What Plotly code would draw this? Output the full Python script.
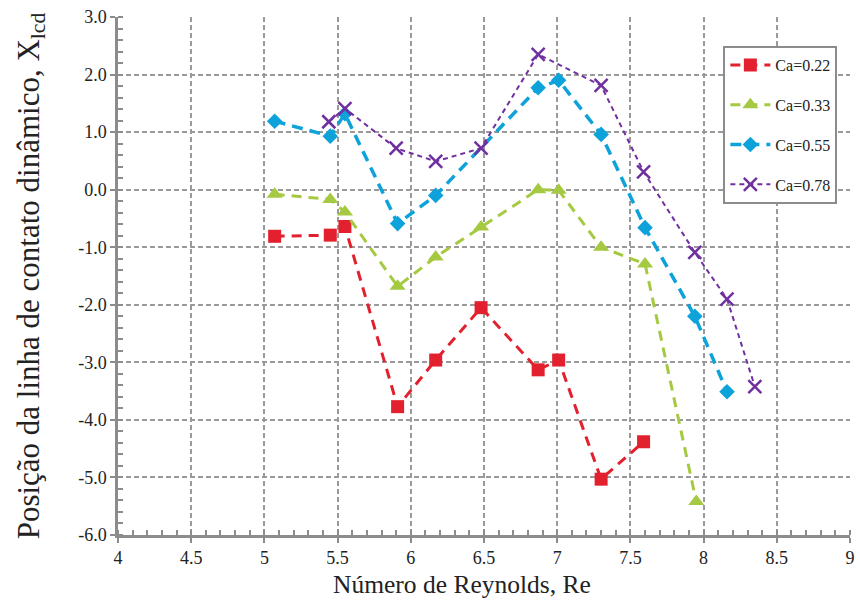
import plotly.graph_objects as go

# Data
re_022 = [5.07, 5.45, 5.55, 5.91, 6.17, 6.48, 6.87, 7.01, 7.30, 7.59]
x_022 = [-0.81, -0.79, -0.64, -3.77, -2.96, -2.05, -3.13, -2.96, -5.03, -4.38]

re_033 = [5.07, 5.45, 5.55, 5.91, 6.17, 6.48, 6.87, 7.01, 7.30, 7.60, 7.95]
x_033 = [-0.08, -0.17, -0.39, -1.68, -1.17, -0.65, 0.0, -0.01, -1.00, -1.29, -5.42]

re_055 = [5.07, 5.45, 5.55, 5.91, 6.17, 6.87, 7.01, 7.30, 7.60, 7.94, 8.16]
x_055 = [1.19, 0.93, 1.32, -0.59, -0.10, 1.77, 1.90, 0.96, -0.66, -2.20, -3.51]

re_078 = [5.44, 5.55, 5.90, 6.17, 6.48, 6.87, 7.30, 7.59, 7.94, 8.16, 8.35]
x_078 = [1.18, 1.41, 0.72, 0.49, 0.72, 2.35, 1.81, 0.31, -1.09, -1.90, -3.42]

series_names = ["Ca=0.22", "Ca=0.33", "Ca=0.55", "Ca=0.78"]

x_ticks = [4, 4.5, 5, 5.5, 6, 6.5, 7, 7.5, 8, 8.5, 9]
y_ticks = [3.0, 2.0, 1.0, 0.0, -1.0, -2.0, -3.0, -4.0, -5.0, -6.0]

x_title = "Número de Reynolds, Re"
y_title = "Posição da linha de contato dinâmico, X<sub>lcd</sub>"

FONT = "Liberation Serif"

fig = go.Figure()

styles = [
    dict(color="#E3202E", symbol="square", size=13, width=3, dash="10px,7px"),
    dict(color="#A5C940", symbol="triangle-up", size=14, width=3, dash="10px,7px"),
    dict(color="#0DA2DA", symbol="diamond", size=12, width=3.5, dash="11px,7px"),
    dict(color="#7030A0", symbol="x-thin", size=13, width=2, dash="5px,4px"),
]
data = [(re_022, x_022), (re_033, x_033), (re_055, x_055), (re_078, x_078)]

for i, ((xs, ys), name, st) in enumerate(zip(data, series_names, styles)):
    marker = dict(symbol=st["symbol"], size=st["size"], color=st["color"])
    if st["symbol"] == "x-thin":
        marker["line"] = dict(color=st["color"], width=2.5)
    else:
        marker["line"] = dict(width=0)
    fig.add_trace(go.Scatter(
        x=xs, y=ys, name=name, mode="lines+markers",
        line=dict(color=st["color"], width=st["width"], dash=st["dash"]),
        marker=marker, legendgroup=name,
    ))

axis_common = dict(
    showline=True, linecolor="#8c8c8c", linewidth=2.5, mirror=False,
    showgrid=True, gridcolor="#9a9a9a", gridwidth=1.5, griddash="5px,3px",
    zeroline=False, ticks="outside", ticklen=5, tickwidth=1.5, tickcolor="#8c8c8c",
    tickfont=dict(family=FONT, size=18, color="#222"),
)

fig.update_xaxes(
    range=[4, 9], tickvals=x_ticks, ticktext=[str(t) for t in x_ticks],
    minor=dict(dtick=0.1, ticks="inside", ticklen=5, tickcolor="#8c8c8c", tickwidth=1.5, showgrid=False),
    **axis_common,
)
fig.update_yaxes(
    range=[-6, 3], tickvals=y_ticks, ticktext=[f"{t:.1f}" for t in y_ticks],
    minor=dict(dtick=0.2, ticks="inside", ticklen=5, tickcolor="#8c8c8c", tickwidth=1.5, showgrid=False),
    title=dict(text=y_title, font=dict(family=FONT, size=31, color="#222"), standoff=30),
    **axis_common,
)

fig.add_annotation(
    text=x_title, xref="paper", yref="paper", x=0.4697, y=-0.127,
    xanchor="center", yanchor="bottom", showarrow=False,
    font=dict(family=FONT, size=25.5, color="#222"),
)

fig.update_layout(
    width=860, height=612,
    margin=dict(l=118, r=5, t=17, b=77),
    font=dict(family=FONT, color="#222"),
    paper_bgcolor="white", plot_bgcolor="white",
    showlegend=True,
    legend=dict(
        x=0.827, y=0.944, xanchor="left", yanchor="top",
        bgcolor="white", bordercolor="#8c8c8c", borderwidth=2,
        font=dict(family=FONT, size=16, color="#222"),
        tracegroupgap=16, itemwidth=40,
    ),
)

fig.write_html("out.html")
